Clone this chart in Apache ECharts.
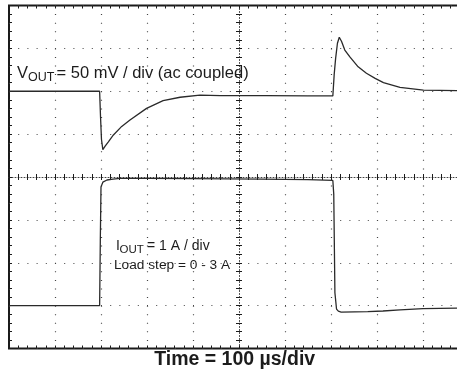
<!DOCTYPE html>
<html><head><meta charset="utf-8">
<script src="https://cdn.jsdelivr.net/npm/echarts@6/dist/echarts.min.js"></script>
<style>html,body{margin:0;padding:0;background:#fff;overflow:hidden}#c{width:457px;height:375px}</style>
</head><body><div id="c"></div>
<script>
// Time axis: 100 µs/div, 10 divisions
const timeMin = 0, timeMax = 1000, timeStep = 100;
// VOUT: 50 mV/div (ac coupled), 8 divisions, 0 mV two divisions below top
const voutMin = -300, voutMax = 100, voutStep = 50;
// IOUT: 1 A/div, 0 A one division above bottom
const ioutMin = -1, ioutMax = 7;

// VOUT trace (µs, mV)
const voutTime = [0, 100, 197, 199, 201, 204, 209, 216, 227, 245, 263, 299, 335, 372, 415, 460, 560, 650, 704, 707, 710, 714, 718, 723, 730, 741, 759, 777, 796, 814, 850, 901, 975];
const voutMv   = [0, 0, 0, -30, -56, -68, -64, -59, -51, -41, -33.5, -20, -11, -7, -4.5, -5, -5, -5.5, -5.5, 20, 38, 56, 63, 58, 48, 40, 28.5, 21, 15, 10, 4.6, 1.4, 0.7];

// IOUT trace (µs, A)
const ioutTime = [0, 100, 197, 198.5, 200, 204, 213, 226, 241, 300, 400, 550, 650, 704, 706, 708.5, 712, 716, 722, 780, 813, 850, 900, 975];
const ioutAmp  = [0, 0, 0, 1.5, 2.77, 2.88, 2.93, 2.95, 2.97, 2.97, 2.96, 2.95, 2.94, 2.92, 2.6, 0.3, -0.08, -0.13, -0.15, -0.14, -0.125, -0.1, -0.07, -0.06];

const voutData = voutTime.map((t, i) => [t, voutMv[i]]);
const ioutData = ioutTime.map((t, i) => [t, ioutAmp[i]]);

const FONT = '"Liberation Sans", Arial, Helvetica, sans-serif';
const ink = '#1c1c1c';
const dotColor = '#444';

function tickAxisX(pos, inside, extra) {
  return Object.assign({
    type: 'value', min: timeMin, max: timeMax, interval: timeStep, position: pos,
    axisLine: { show: false, onZero: false },
    axisTick: { show: true, inside: inside, length: 3, lineStyle: { color: ink, width: 1 } },
    minorTick: { show: true, splitNumber: 5, length: 3, lineStyle: { color: ink, width: 1 } },
    axisLabel: { show: false }, splitLine: { show: false }
  }, extra || {});
}

const chart = echarts.init(document.getElementById('c'), null, { renderer: 'canvas' });
chart.setOption({
  animation: false,
  backgroundColor: '#fff',
  grid: { left: 9, top: 5.5, width: 460, height: 343, containLabel: false, outerBoundsMode: 'none',
          show: true, borderColor: '#1a1a1a', borderWidth: 2, backgroundColor: 'transparent' },
  xAxis: [
    tickAxisX('bottom', true, { splitLine: { show: true, lineStyle: { color: dotColor, width: 1.2, type: [1, 7.575] } } }),
    tickAxisX('top', true),
    { type: 'value', min: -5, max: 5, show: false },
    tickAxisX('bottom', true, { axisLine: { show: true, onZero: true, onZeroAxisIndex: 2, lineStyle: { color: dotColor, width: 1, type: [1, 2] } } }),
    tickAxisX('bottom', false, { axisLine: { show: false, onZero: true, onZeroAxisIndex: 2 } })
  ],
  yAxis: [
    { type: 'value', min: voutMin, max: voutMax, interval: voutStep, position: 'left',
      axisLine: { show: false, onZero: false },
      axisTick: { show: true, inside: true, length: 3, lineStyle: { color: ink } },
      minorTick: { show: true, splitNumber: 5, length: 3, lineStyle: { color: ink } },
      axisLabel: { show: false },
      splitLine: { show: true, lineStyle: { color: dotColor, width: 1.2, type: [1, 8.2] } } },
    { type: 'value', min: ioutMin, max: ioutMax, show: false, axisLine: { onZero: false } },
    { type: 'value', min: -4, max: 4, show: false, axisLine: { onZero: false } },
    { type: 'value', min: -4, max: 4, interval: 1, position: 'left',
      axisLine: { show: true, onZero: true, onZeroAxisIndex: 2, lineStyle: { color: dotColor, width: 1, type: [1, 2] } },
      axisTick: { show: true, inside: true, length: 3, lineStyle: { color: ink } },
      minorTick: { show: true, splitNumber: 5, length: 3, lineStyle: { color: ink } },
      axisLabel: { show: false }, splitLine: { show: false } },
    { type: 'value', min: -4, max: 4, interval: 1, position: 'left',
      axisLine: { show: false, onZero: true, onZeroAxisIndex: 2 },
      axisTick: { show: true, inside: false, length: 3, lineStyle: { color: ink } },
      minorTick: { show: true, splitNumber: 5, length: 3, lineStyle: { color: ink } },
      axisLabel: { show: false }, splitLine: { show: false } }
  ],
  series: [
    { name: 'VOUT', type: 'line', xAxisIndex: 0, yAxisIndex: 0, data: voutData, showSymbol: false, smooth: false,
      lineStyle: { color: '#2a2a2a', width: 1.3 }, z: 5 },
    { name: 'IOUT', type: 'line', xAxisIndex: 0, yAxisIndex: 1, data: ioutData, showSymbol: false, smooth: false,
      lineStyle: { color: '#2a2a2a', width: 1.3 }, z: 5 }
  ],
  graphic: [
    { type: 'text', x: 17, y: 73.5, z: 10, style: { text: 'V', fill: ink, font: '16.5px ' + FONT, textAlign: 'left', textVerticalAlign: 'middle' } },
    { type: 'text', x: 28, y: 77.5, z: 10, style: { text: 'OUT', fill: ink, font: '12.5px ' + FONT, textAlign: 'left', textVerticalAlign: 'middle' } },
    { type: 'text', x: 56.5, y: 73.5, z: 10, style: { text: '= 50 mV / div (ac coupled)', fill: ink, font: '16.5px ' + FONT, textAlign: 'left', textVerticalAlign: 'middle' } },
    { type: 'text', x: 116, y: 246.5, z: 10, style: { text: 'I', fill: ink, font: '14px ' + FONT, textAlign: 'left', textVerticalAlign: 'middle' } },
    { type: 'text', x: 119.5, y: 250, z: 10, style: { text: 'OUT', fill: ink, font: '11.5px ' + FONT, textAlign: 'left', textVerticalAlign: 'middle' } },
    { type: 'text', x: 147, y: 246.5, z: 10, style: { text: '= 1 A / div', fill: ink, font: '14px ' + FONT, textAlign: 'left', textVerticalAlign: 'middle' } },
    { type: 'text', x: 114, y: 265.5, z: 10, style: { text: 'Load step = 0 - 3 A', fill: ink, font: '13.7px ' + FONT, textAlign: 'left', textVerticalAlign: 'middle' } },
    { type: 'text', x: 234.7, y: 360, z: 10, style: { text: 'Time = 100 µs/div', fill: ink, font: 'bold 19.5px ' + FONT, textAlign: 'center', textVerticalAlign: 'middle' } }
  ]
});
</script></body></html>
